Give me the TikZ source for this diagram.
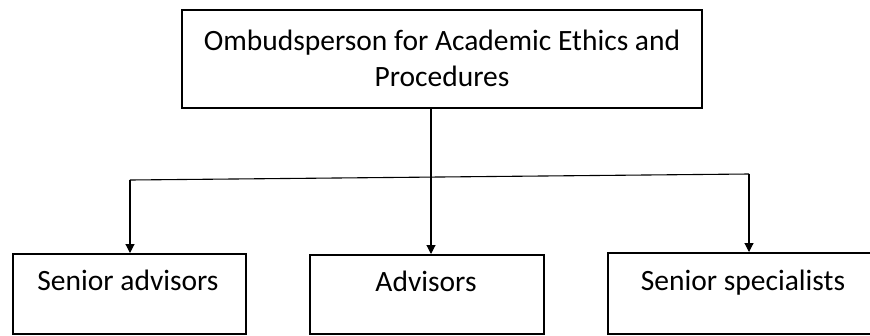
\documentclass[tikz,border=0pt]{standalone}
\usepackage{fontspec}
\setmainfont{Carlito}
\usetikzlibrary{arrows.meta}
\tikzset{
  box/.style={draw=black, line width=1.7pt, rectangle, inner sep=0pt, anchor=north west},
  label/.style={anchor=base, inner sep=0pt, font=\fontsize{29.5}{36}\selectfont},
  conn/.style={draw=black, line width=1.1pt},
  arr/.style={conn, -{Triangle[width=9pt,length=9pt]}}
}
\begin{document}
\begin{tikzpicture}[x=1pt,y=-1pt]
\useasboundingbox (0,0) rectangle (870,335);
\clip (0,0) rectangle (870,335);
% boxes
\node[box, minimum width=520pt, minimum height=98pt] (top) at (181,9) {};
\node[box, minimum width=233pt, minimum height=80pt] (sa) at (12,253) {};
\node[box, minimum width=234pt, minimum height=79pt] (adv) at (309,254) {};
\node[box, minimum width=272pt, minimum height=81pt] (ss) at (607,252) {};
% texts
\node[label] (t1) at (442,50) {Ombudsperson for Academic Ethics and};
\node[label] (t2) at (442,86) {Procedures};
\node[label] (lsa) at (128,290) {Senior advisors};
\node[label] (ladv) at (426,291) {Advisors};
\node[label] (lss) at (743,290) {Senior specialists};
% connectors
\coordinate (jl) at (130,180);
\coordinate (jm) at (431,177);
\coordinate (jr) at (749,174);
\draw[arr] (top.south -| jm) -- (adv.north -| jm);
\draw[conn] (jl) -- (jr);
\draw[arr] (jl) -- (sa.north -| jl);
\draw[arr] (jr) -- (ss.north -| jr);
\end{tikzpicture}
\end{document}
